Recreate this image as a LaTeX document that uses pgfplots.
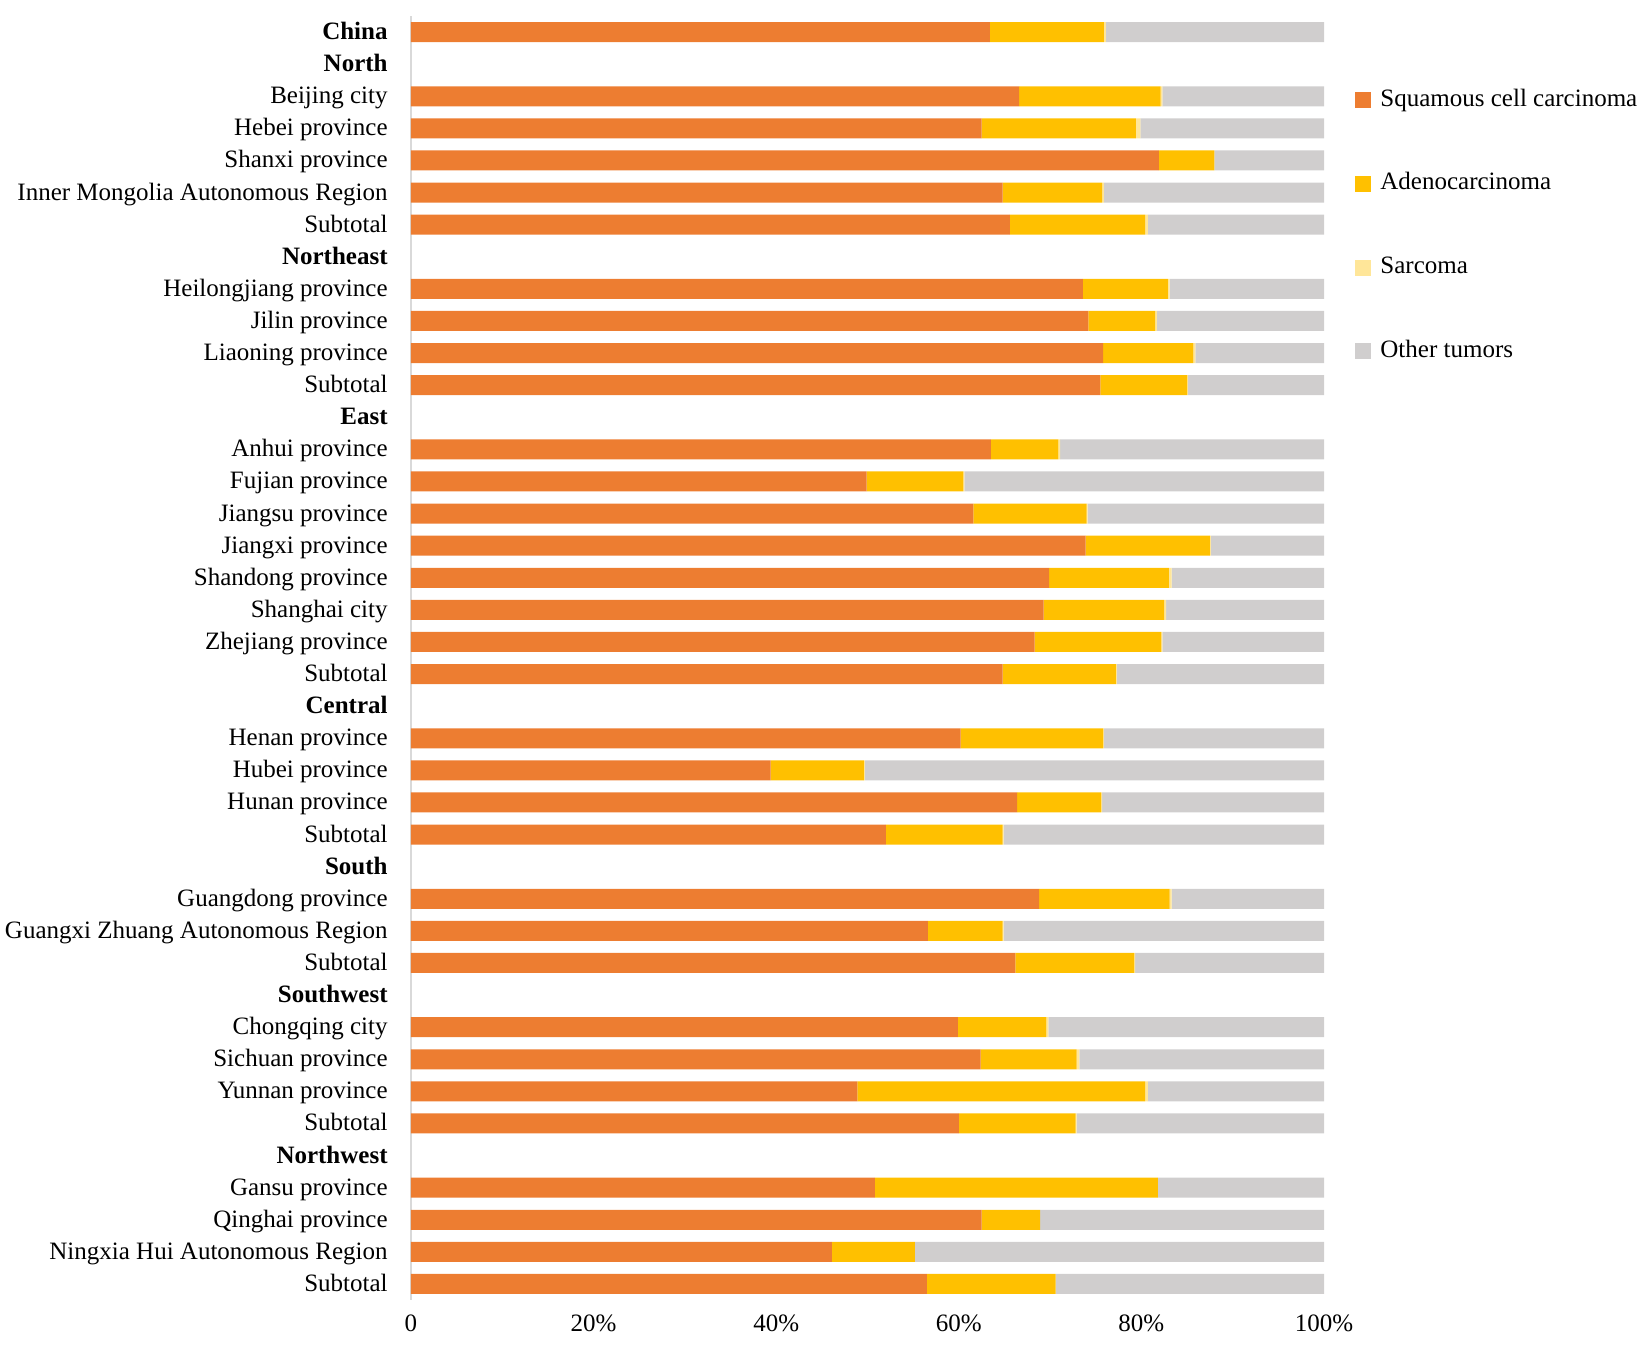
\documentclass[border=0pt]{standalone}
\usepackage{pgfplots}
\pgfplotsset{compat=1.18}
\usepackage{pgfplotstable}
\usepackage{fontspec}
\setmainfont{Liberation Serif}

\definecolor{scc}{HTML}{ED7D31}
\definecolor{adeno}{HTML}{FFC000}
\definecolor{sarc}{HTML}{FFE699}
\definecolor{other}{HTML}{D0CECE}
\definecolor{axisgray}{HTML}{D9D9D9}

% Share of each histological type (%), one row per region; header rows have no bar
\pgfplotstableread{
row scc  adeno sarcoma other
0   63.4 12.5  0.2     23.9
2   66.6 15.5  0.2     17.7
3   62.5 16.9  0.5     20.1
4   81.9  6.1  0.0     12.0
5   64.8 10.9  0.2     24.1
6   65.6 14.8  0.3     19.3
8   73.6  9.3  0.2     16.9
9   74.2  7.3  0.2     18.3
10  75.8  9.9  0.2     14.1
11  75.5  9.5  0.1     14.9
13  63.5  7.4  0.2     28.9
14  49.9 10.6  0.1     39.4
15  61.6 12.4  0.1     25.9
16  73.9 13.6  0.1     12.4
17  69.9 13.1  0.3     16.7
18  69.3 13.2  0.2     17.3
19  68.3 13.9  0.1     17.7
20  64.8 12.4  0.1     22.7
22  60.2 15.6  0.1     24.1
23  39.4 10.2  0.1     50.3
24  66.4  9.2  0.1     24.3
25  52.0 12.8  0.1     35.1
27  68.8 14.3  0.2     16.7
28  56.6  8.2  0.1     35.1
29  66.2 13.0  0.1     20.7
31  59.9  9.7  0.2     30.2
32  62.4 10.5  0.3     26.8
33  48.9 31.5  0.3     19.3
34  60.0 12.8  0.1     27.1
36  50.8 31.0  0.0     18.2
37  62.5  6.4  0.0     31.1
38  46.1  9.1  0.0     44.8
39  56.5 14.1  0.0     29.4
}\shares

\begin{document}
\begin{tikzpicture}
\useasboundingbox (0,0) rectangle (819.5pt,-678.5pt);
\begin{axis}[
  at={(205.5pt,-8pt)}, anchor=north west,
  scale only axis, width=456.5pt, height=642pt,
  xbar stacked, bar width=10pt,
  xmin=0, xmax=100, ymin=-0.5, ymax=39.5, y dir=reverse,
  xtick={0,20,...,100},
  xticklabels={0,20\%,40\%,60\%,80\%,100\%},
  ytick={0,...,39},
  yticklabels={
    \textbf{China},\textbf{North},Beijing city,Hebei province,Shanxi province,
    Inner Mongolia Autonomous Region,Subtotal,\textbf{Northeast},
    Heilongjiang province,Jilin province,Liaoning province,Subtotal,\textbf{East},
    Anhui province,Fujian province,Jiangsu province,Jiangxi province,
    Shandong province,Shanghai city,Zhejiang province,Subtotal,\textbf{Central},
    Henan province,Hubei province,Hunan province,Subtotal,\textbf{South},
    Guangdong province,Guangxi Zhuang Autonomous Region,Subtotal,\textbf{Southwest},
    Chongqing city,Sichuan province,Yunnan province,Subtotal,\textbf{Northwest},
    Gansu province,Qinghai province,Ningxia Hui Autonomous Region,Subtotal},
  major tick length=0pt,
  axis x line*=bottom, axis y line*=left,
  x axis line style={draw=none},
  y axis line style={draw=axisgray, line width=0.8pt},
  tick label style={font=\fontsize{12.5}{14}\selectfont},
  yticklabel style={inner sep=0pt, anchor=east, xshift=-11.5pt, yshift=-1pt,
    text height=8.5pt, text depth=3pt},
  xticklabel style={inner sep=0pt, anchor=north, yshift=-7pt},
  legend cell align=left,
  legend style={at={(1.034,0.944)}, anchor=north west, draw=none, fill=none,
    inner sep=0pt, row sep=29.8pt, column sep=4.5pt,
    font=\fontsize{12.5}{14}\selectfont,
    nodes={inner sep=0pt, text height=9pt, text depth=3pt}},
  legend image code/.code={\fill[#1] (0pt,-4pt) rectangle (8pt,4pt);},
]
\addplot[fill=scc, draw=none] table[x=scc, y=row] {\shares};
\addplot[fill=adeno, draw=none] table[x=adeno, y=row] {\shares};
\addplot[fill=sarc, draw=none] table[x=sarcoma, y=row] {\shares};
\addplot[fill=other, draw=none] table[x=other, y=row] {\shares};
\legend{Squamous cell carcinoma, Adenocarcinoma, Sarcoma, Other tumors}
\end{axis}
\end{tikzpicture}
\end{document}
